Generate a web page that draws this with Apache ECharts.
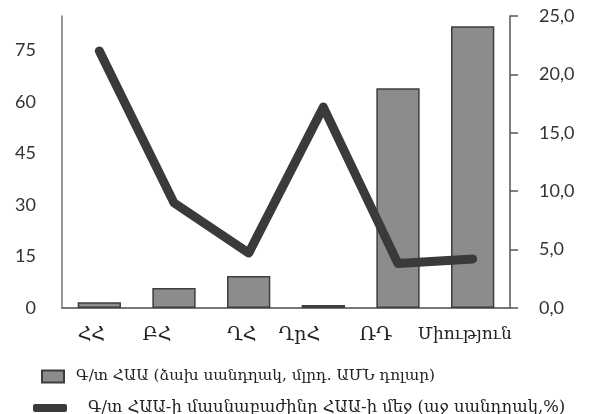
<!DOCTYPE html>
<html>
<head>
<meta charset="utf-8">
<script src="https://cdn.jsdelivr.net/npm/echarts@6/dist/echarts.min.js"></script>
<style>
  html, body { margin: 0; padding: 0; background: #fff; }
  #chart { width: 604px; height: 414px; }
</style>
</head>
<body>
<div id="chart"></div>
<script>
const categories = ['ՀՀ', 'ԲՀ', 'ՂՀ', 'ՂրՀ', 'ՌԴ', 'Միություն'];
const fdiValues = [1.7, 5.8, 9.3, 0.9, 64, 82];
const fdiShare = [22.0, 9.0, 4.7, 17.2, 3.8, 4.2];
const leftTicks = [0, 15, 30, 45, 60, 75];
const rightTicks = [0, 5, 10, 15, 20, 25];
const barName = 'Գ/տ ՀԱԱ (ձախ սանդղակ, մլրդ. ԱՄՆ դոլար)';
const lineName = 'Գ/տ ՀԱԱ-ի մասնաբաժինը ՀԱԱ-ի մեջ (աջ սանդղակ,%)';

// small left shifts of the category labels, as in the scanned figure
const labelShift = [8, 17, 7, 24, 22, 8];
const rich = {};
labelShift.forEach((d, i) => {
  rich['c' + i] = { padding: [0, d * 2, 0, 0], fontFamily: 'DejaVu Serif', fontSize: i === 5 ? 17 : 19, color: '#222' };
});

const chart = echarts.init(document.getElementById('chart'));
chart.setOption({
  animation: false,
  grid: { left: 62, right: 94, top: 16, bottom: 106 },
  legend: [
    {
      data: [barName], left: 36, top: 364, icon: 'rect',
      itemWidth: 22, itemHeight: 12,
      textStyle: { fontFamily: 'DejaVu Serif', fontSize: 15.3, color: '#222', padding: [0, 0, 0, 7] }
    },
    {
      data: [lineName], left: 28, top: 395, icon: 'roundRect',
      itemWidth: 34, itemHeight: 8,
      textStyle: { fontFamily: 'DejaVu Serif', fontSize: 16.4, color: '#222', padding: [0, 0, 0, 16] }
    }
  ],
  xAxis: {
    type: 'category',
    data: categories,
    axisLine: { lineStyle: { color: '#777', width: 2 } },
    axisTick: { show: false },
    axisLabel: {
      interval: 0,
      margin: 18,
      formatter: (v, i) => '{c' + i + '|' + v + '}',
      rich: rich
    }
  },
  yAxis: [
    {
      type: 'value', min: leftTicks[0], max: 85, interval: leftTicks[1] - leftTicks[0],
      splitLine: { show: false },
      axisLine: { show: true, lineStyle: { color: '#777', width: 1.5 } },
      axisTick: { show: false },
      axisLabel: {
        showMaxLabel: false, margin: 26,
        fontFamily: 'Lato', fontSize: 18, color: '#333'
      }
    },
    {
      type: 'value', min: rightTicks[0], max: rightTicks[rightTicks.length - 1],
      interval: rightTicks[1] - rightTicks[0],
      position: 'right',
      splitLine: { show: false },
      axisLine: { show: true, lineStyle: { color: '#555', width: 1.5 } },
      axisTick: { show: true, length: 8, lineStyle: { color: '#555', width: 1.5 } },
      axisLabel: {
        margin: 29, fontFamily: 'Lato', fontSize: 18, color: '#333',
        formatter: v => v.toFixed(1).replace('.', ',')
      }
    }
  ],
  series: [
    {
      name: barName,
      type: 'bar',
      data: fdiValues,
      barWidth: '58%',
      itemStyle: { color: '#8c8c8c', borderColor: '#3e3e3e', borderWidth: 1.5 }
    },
    {
      name: lineName,
      type: 'line',
      yAxisIndex: 1,
      data: fdiShare,
      showSymbol: false,
      symbol: 'none',
      itemStyle: { color: '#3a3a3a' },
      lineStyle: { color: '#3a3a3a', width: 9, cap: 'round', join: 'round' }
    }
  ]
});
</script>
</body>
</html>
